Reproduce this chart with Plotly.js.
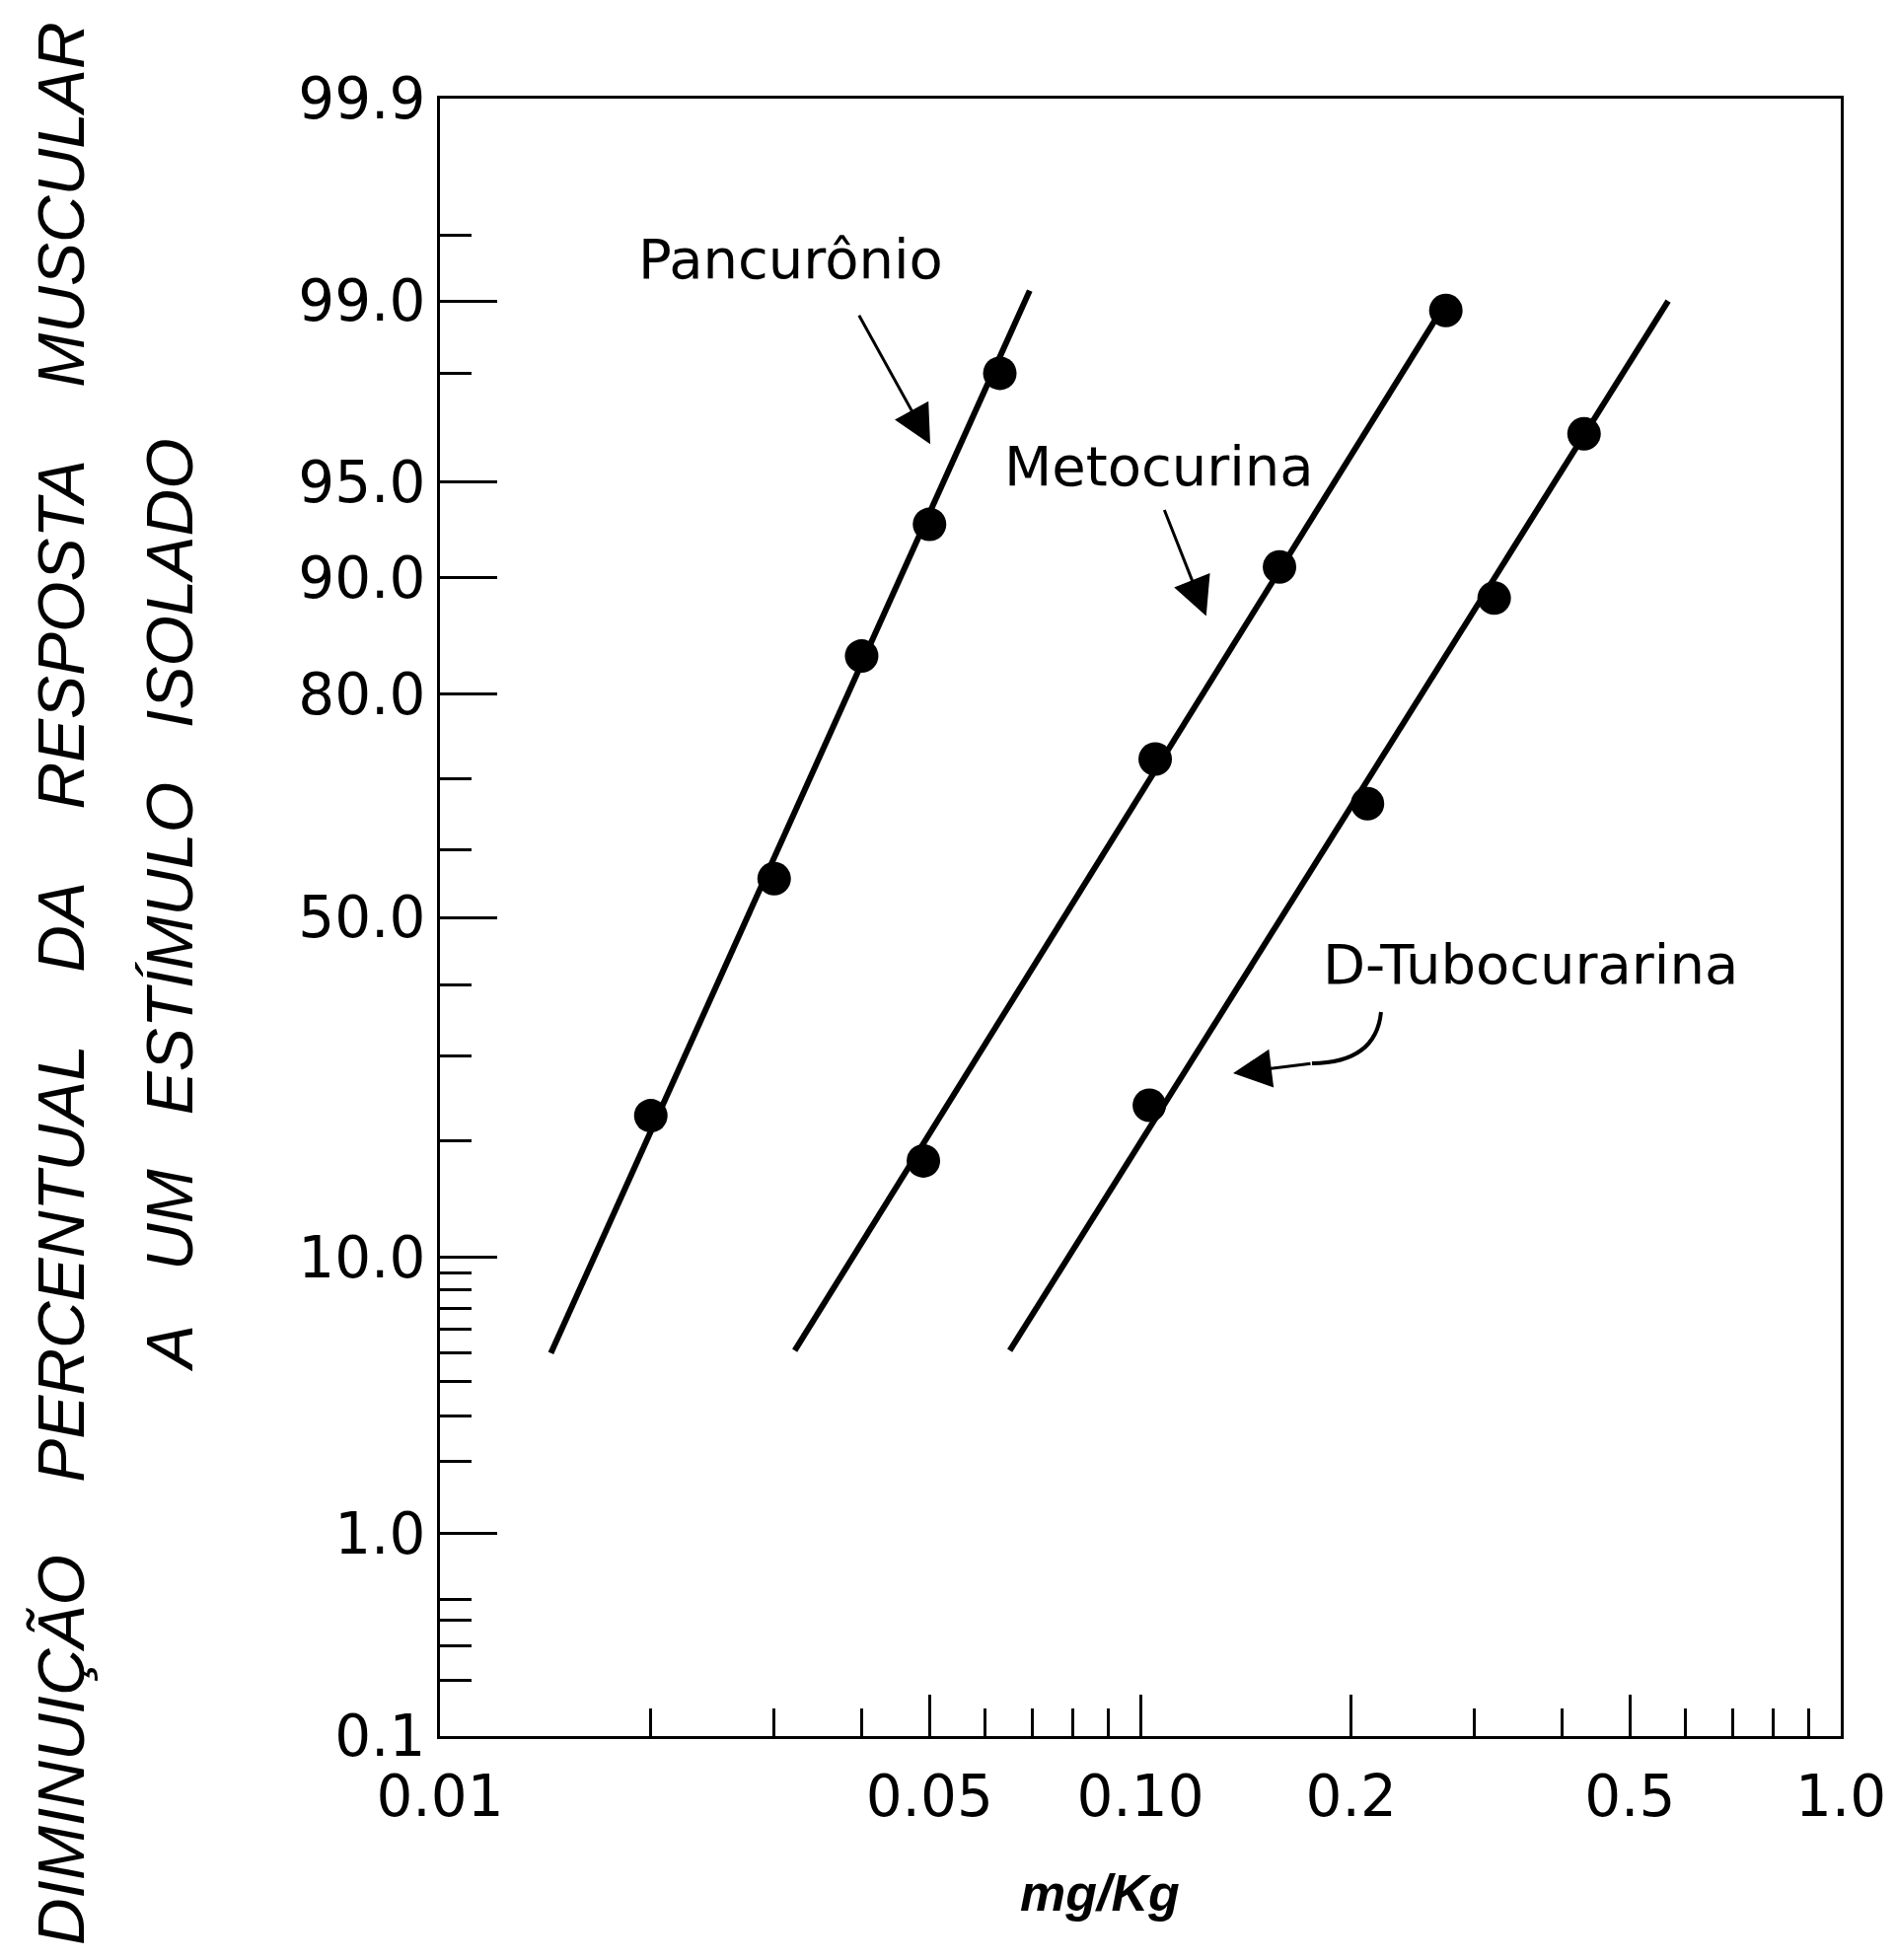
<!DOCTYPE html>
<html>
<head>
<meta charset="utf-8">
<script src="https://cdn.plot.ly/plotly-3.0.1.min.js"></script>
<style>html,body{margin:0;padding:0;background:#fff;}#chart{width:1922px;height:1987px;}</style>
</head>
<body>
<div id="chart"></div>
<script>
// ---- data (dose in mg/Kg, response in %) ----
const pancDose = [0.02, 0.03, 0.04, 0.05, 0.063];
const pancPct  = [22.7, 55.8, 83.8, 93.1, 98.0];
const pancLineDose = [0.0144, 0.0695];
const pancLinePct  = [5.0, 99.1];

const metoDose = [0.049, 0.105, 0.158, 0.273];
const metoPct  = [17.9, 72.5, 90.7, 98.9];
const metoLineDose = [0.0321, 0.274];
const metoLinePct  = [5.1, 99.0];

const tuboDose = [0.103, 0.211, 0.32, 0.43];
const tuboPct  = [23.9, 66.6, 88.6, 96.6];
const tuboLineDose = [0.0651, 0.567];
const tuboLinePct  = [5.1, 99.0];

const yTickPct    = [0.1, 1, 10, 50, 80, 90, 95, 99, 99.9];
const yTickText   = ['0.1', '1.0', '10.0', '50.0', '80.0', '90.0', '95.0', '99.0', '99.9'];
const yMinorPct   = [0.2, 0.3, 0.4, 0.5, 2, 3, 4, 5, 6, 7, 8, 9, 20, 30, 40, 60, 70, 98, 99.5];
const xTickVals   = [0.01, 0.05, 0.1, 0.2, 0.5, 1.0];
const xTickText   = ['0.01', '0.05', '0.10', '0.2', '0.5', '1.0'];
const xMinorVals  = [0.02, 0.03, 0.04, 0.06, 0.07, 0.08, 0.09, 0.3, 0.4, 0.6, 0.7, 0.8, 0.9];

// probability (probit) scale transform: inverse standard normal CDF (Acklam)
function probit(p) {
  const a = [-3.969683028665376e+01, 2.209460984245205e+02, -2.759285104469687e+02, 1.383577518672690e+02, -3.066479806614716e+01, 2.506628277459239e+00];
  const b = [-5.447609879822406e+01, 1.615858368580409e+02, -1.556989798598866e+02, 6.680131188771972e+01, -1.328068155288572e+01];
  const c = [-7.784894002430293e-03, -3.223964580411365e-01, -2.400758277161838e+00, -2.549732539343734e+00, 4.374664141464968e+00, 2.938163982698783e+00];
  const d = [7.784695709041462e-03, 3.224671290700398e-01, 2.445134137142996e+00, 3.754408661907416e+00];
  const pl = 0.02425, ph = 1 - pl;
  let q, r;
  if (p < pl) {
    q = Math.sqrt(-2 * Math.log(p));
    return (((((c[0]*q+c[1])*q+c[2])*q+c[3])*q+c[4])*q+c[5]) / ((((d[0]*q+d[1])*q+d[2])*q+d[3])*q+1);
  } else if (p <= ph) {
    q = p - 0.5; r = q * q;
    return (((((a[0]*r+a[1])*r+a[2])*r+a[3])*r+a[4])*r+a[5])*q / (((((b[0]*r+b[1])*r+b[2])*r+b[3])*r+b[4])*r+1);
  } else {
    q = Math.sqrt(-2 * Math.log(1 - p));
    return -(((((c[0]*q+c[1])*q+c[2])*q+c[3])*q+c[4])*q+c[5]) / ((((d[0]*q+d[1])*q+d[2])*q+d[3])*q+1);
  }
}
const pz = arr => arr.map(v => probit(v / 100));

const lineStyle = {color: '#000', width: 6};
const markerStyle = {color: '#000', size: 34};

const traces = [
  {x: pancLineDose, y: pz(pancLinePct), mode: 'lines', line: lineStyle, name: 'Pancurônio', showlegend: false},
  {x: pancDose, y: pz(pancPct), mode: 'markers', marker: markerStyle, showlegend: false},
  {x: metoLineDose, y: pz(metoLinePct), mode: 'lines', line: lineStyle, name: 'Metocurina', showlegend: false},
  {x: metoDose, y: pz(metoPct), mode: 'markers', marker: markerStyle, showlegend: false},
  {x: tuboLineDose, y: pz(tuboLinePct), mode: 'lines', line: lineStyle, name: 'D-Tubocurarina', showlegend: false},
  {x: tuboDose, y: pz(tuboPct), mode: 'markers', marker: markerStyle, showlegend: false}
];

const nb = '\u00A0';
const labelFont = {family: 'DejaVu Sans, sans-serif', size: 56, color: '#000'};
const titleFont = {family: 'Liberation Sans, Arial, sans-serif', size: 66, color: '#000', style: 'italic'};
const tickFont = {family: 'DejaVu Sans, sans-serif', size: 58, color: '#000'};

const layout = {
  width: 1922, height: 1987,
  margin: {l: 446, r: 56, t: 100, b: 227},
  paper_bgcolor: '#fff', plot_bgcolor: '#fff',
  showlegend: false,
  xaxis: {
    type: 'log', range: [-2, 0],
    tickmode: 'array', tickvals: xTickVals, ticktext: xTickText,
    ticks: 'inside', ticklen: 42, tickwidth: 3, tickcolor: '#000',
    ticklabelstandoff: 8,
    tickfont: tickFont,
    showline: true, linewidth: 3, linecolor: '#000', mirror: true,
    showgrid: false, zeroline: false,
    minor: {tickmode: 'array', tickvals: xMinorVals, ticks: 'inside', ticklen: 28, tickwidth: 3, tickcolor: '#000', showgrid: false}
  },
  yaxis: {
    range: [probit(0.001), probit(0.999)],
    tickmode: 'array', tickvals: pz(yTickPct), ticktext: yTickText,
    ticks: 'inside', ticklen: 58, tickwidth: 3, tickcolor: '#000',
    tickfont: tickFont,
    showline: true, linewidth: 3, linecolor: '#000', mirror: true,
    showgrid: false, zeroline: false,
    minor: {tickmode: 'array', tickvals: pz(yMinorPct), ticks: 'inside', ticklen: 32, tickwidth: 3, tickcolor: '#000', showgrid: false}
  },
  shapes: [
    {type: 'path', xref: 'paper', yref: 'paper',
     path: 'M 0.6718 0.4422 Q 0.6683 0.4114 0.6225 0.4108',
     line: {color: '#000', width: 4}}
  ],
  annotations: [
    {xref: 'paper', yref: 'paper', x: 0.25, y: 0.9024, text: 'Pancurônio', showarrow: false, font: labelFont, xanchor: 'center', yanchor: 'middle'},
    {xref: 'paper', yref: 'paper', x: 0.5134, y: 0.7759, text: 'Metocurina', showarrow: false, font: labelFont, xanchor: 'center', yanchor: 'middle'},
    {xref: 'paper', yref: 'paper', x: 0.7782, y: 0.4711, text: 'D-Tubocurarina', showarrow: false, font: labelFont, xanchor: 'center', yanchor: 'middle'},
    {xref: 'paper', yref: 'paper', x: 0.35, y: 0.789, ax: -73, ay: -132, text: '', showarrow: true, arrowhead: 2, arrowsize: 2.6, arrowwidth: 3, arrowcolor: '#000'},
    {xref: 'paper', yref: 'paper', x: 0.547, y: 0.684, ax: -43, ay: -109, text: '', showarrow: true, arrowhead: 2, arrowsize: 2.6, arrowwidth: 3, arrowcolor: '#000'},
    {xref: 'paper', yref: 'paper', x: 0.5662, y: 0.4048, ax: 80, ay: -10, text: '', showarrow: true, arrowhead: 2, arrowsize: 2.6, arrowwidth: 3, arrowcolor: '#000'},
    {xref: 'paper', yref: 'paper', x: -0.2704, y: 0.4596, textangle: -90, showarrow: false, xanchor: 'center', yanchor: 'middle',
     text: 'DIMINUIÇÃO' + nb+nb+nb+nb + 'PERCENTUAL' + nb+nb+nb+nb + 'DA' + nb+nb+nb+nb + 'RESPOSTA' + nb+nb+nb+nb + 'MUSCULAR', font: titleFont},
    {xref: 'paper', yref: 'paper', x: -0.193, y: 0.5078, textangle: -90, showarrow: false, xanchor: 'center', yanchor: 'middle',
     text: 'A' + nb+nb+nb + 'UM' + nb+nb+nb + 'ESTÍMULO' + nb+nb+nb + 'ISOLADO', font: titleFont},
    {xref: 'paper', yref: 'paper', x: 0.4711, y: -0.0958, showarrow: false, xanchor: 'center', yanchor: 'middle',
     text: '<b><i>mg/Kg</i></b>', font: {family: 'Liberation Sans, Arial, sans-serif', size: 52, color: '#000'}}
  ]
};

Plotly.newPlot('chart', traces, layout, {displayModeBar: false, staticPlot: true});
</script>
</body>
</html>
